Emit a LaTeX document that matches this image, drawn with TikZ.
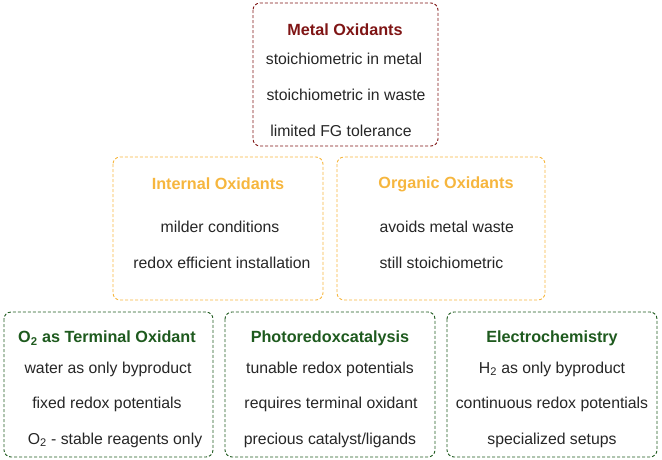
\documentclass[tikz,border=0pt]{standalone}
\usepackage{fontspec}
\setmainfont{Liberation Sans}
\definecolor{cred}{HTML}{7F1515}
\definecolor{corange}{HTML}{F6B63E}
\definecolor{cgreen}{HTML}{1E5A1E}
\begin{document}
\begin{tikzpicture}[x=1pt,y=-1pt,
  boxr/.style={draw=cred,dash pattern=on 3pt off 2pt,rounded corners=7pt,line width=0.9pt},
  boxo/.style={draw=corange,dash pattern=on 3pt off 2pt,rounded corners=7pt,line width=0.9pt},
  boxg/.style={draw=cgreen,dash pattern=on 3pt off 2pt,rounded corners=7pt,line width=0.9pt},
  ttl/.style={font=\fontsize{16.2}{19}\selectfont\bfseries},
  txt/.style={font=\fontsize{15.8}{19}\selectfont,text=black!85}]
\useasboundingbox (0,0) rectangle (662,459);
% Metal
\draw[boxr] (253,3) rectangle (438,146);
\node[ttl,text=cred] (m0) at (345,30) {Metal Oxidants};
\node[txt] (m1) at (344,59) {stoichiometric in metal};
\node[txt] (m2) at (346,95) {stoichiometric in waste};
\node[txt] (m3) at (341,131) {limited FG tolerance};
% Internal
\draw[boxo] (113,157) rectangle (323,300);
\node[ttl,text=corange] (i0) at (218,184) {Internal Oxidants};
\node[txt] (i1) at (220,227) {milder conditions};
\node[txt] (i2) at (222,263) {redox efficient installation};
% Organic
\draw[boxo] (337,157) rectangle (545,300);
\node[ttl,text=corange] (o0) at (446,184) {Organic Oxidants};
\node[txt,anchor=west] (o1) at (376,227) {avoids metal waste};
\node[txt,anchor=west] (o2) at (376,263) {still stoichiometric};
% O2
\draw[boxg] (4,312) rectangle (213,457);
\node[ttl,text=cgreen] (a0) at (107,338) {O\textsubscript{2} as Terminal Oxidant};
\node[txt] (a1) at (108,369) {water as only byproduct};
\node[txt] (a2) at (107,404) {fixed redox potentials};
\node[txt] (a3) at (115,440) {O\textsubscript{2} - stable reagents only};
% Photo
\draw[boxg] (225,312) rectangle (435,457);
\node[ttl,text=cgreen] (b0) at (330,338) {Photoredoxcatalysis};
\node[txt] (b1) at (330,369) {tunable redox potentials};
\node[txt] (b2) at (331,404) {requires terminal oxidant};
\node[txt] (b3) at (330,440) {precious catalyst/ligands};
% Electro
\draw[boxg] (447,312) rectangle (657,457);
\node[ttl,text=cgreen] (c0) at (552,338) {Electrochemistry};
\node[txt] (c1) at (552,369) {H\textsubscript{2} as only byproduct};
\node[txt] (c2) at (552,404) {continuous redox potentials};
\node[txt] (c3) at (552,440) {specialized setups};
\end{tikzpicture}
\end{document}
